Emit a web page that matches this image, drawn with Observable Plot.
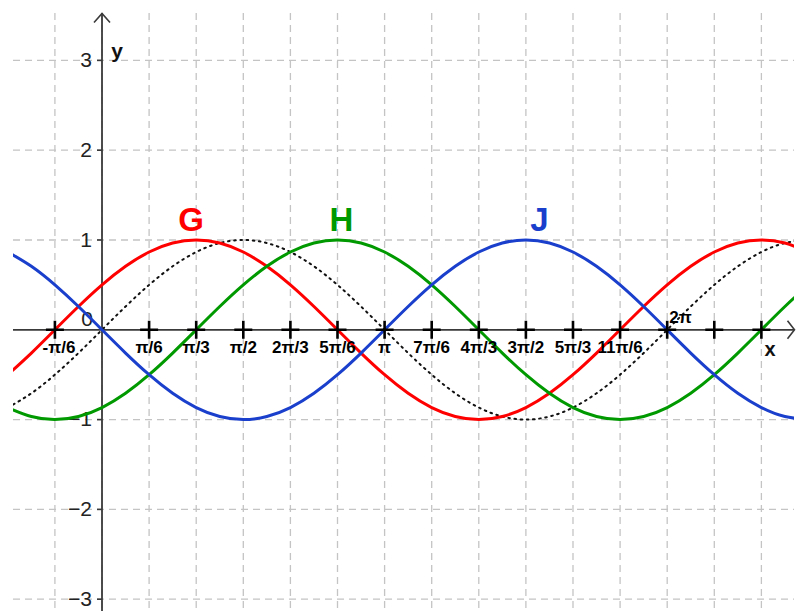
<!DOCTYPE html>
<html>
<head>
<meta charset="utf-8">
<script src="https://cdn.jsdelivr.net/npm/d3@7"></script>
<script src="https://cdn.jsdelivr.net/npm/@observablehq/plot@0.6"></script>
<style>
  html, body { margin: 0; padding: 0; background: #fff; }
  svg { display: block; }
</style>
</head>
<body>
<div id="chart"></div>
<script>
// x positions, in steps of π/12 (converted to multiples of π for the scale)
const steps = [-4,-3,-2,-1,0,1,2,3,4,5,6,7,8,9,10,11,12,13,14,15,16,17,18,19,20,21,22,23,24,25,26,27,28,29,30];
// dotted curve (black)
const dotted = [-0.866,-0.707,-0.5,-0.259,0,0.259,0.5,0.707,0.866,0.966,1,0.966,0.866,0.707,0.5,0.259,0,-0.259,-0.5,-0.707,-0.866,-0.966,-1,-0.966,-0.866,-0.707,-0.5,-0.259,0,0.259,0.5,0.707,0.866,0.966,1];
// G (red)
const seriesG = [-0.5,-0.259,0,0.259,0.5,0.707,0.866,0.966,1,0.966,0.866,0.707,0.5,0.259,0,-0.259,-0.5,-0.707,-0.866,-0.966,-1,-0.966,-0.866,-0.707,-0.5,-0.259,0,0.259,0.5,0.707,0.866,0.966,1,0.966,0.866];
// H (green)
const seriesH = [-0.866,-0.966,-1,-0.966,-0.866,-0.707,-0.5,-0.259,0,0.259,0.5,0.707,0.866,0.966,1,0.966,0.866,0.707,0.5,0.259,0,-0.259,-0.5,-0.707,-0.866,-0.966,-1,-0.966,-0.866,-0.707,-0.5,-0.259,0,0.259,0.5];
// J (blue)
const seriesJ = [0.866,0.707,0.5,0.259,0,-0.259,-0.5,-0.707,-0.866,-0.966,-1,-0.966,-0.866,-0.707,-0.5,-0.259,0,0.259,0.5,0.707,0.866,0.966,1,0.966,0.866,0.707,0.5,0.259,0,-0.259,-0.5,-0.707,-0.866,-0.966,-1];

// x ticks, in steps of π/6
const xTickPos = [-1,1,2,3,4,5,6,7,8,9,10,11,12,13,14];
const xTickLabels = ["-π/6","π/6","π/3","π/2","2π/3","5π/6","π","7π/6","4π/3","3π/2","5π/3","11π/6","2π","",""];
const xGridPos = [-1,0,1,2,3,4,5,6,7,8,9,10,11,12,13,14];
const yTicks = [3,2,1,-1,-2,-3];
const yTickLabels = ["3","2","1","−1","−2","−3"];
const yGrid = [-3,-2,-1,1,2,3];

// curve names
const curveNames = ["G","H","J"];
const curveColors = ["#ff0000","#009900","#1a3fcc"];
const labelX = [0.315, 0.847, 1.548];
const labelY = [1.22, 1.22, 1.22];

const toRows = (vals, name) => steps.map((k, i) => ({x: k / 12, y: vals[i], name}));
const rowsG = toRows(seriesG, "G");
const rowsH = toRows(seriesH, "H");
const rowsJ = toRows(seriesJ, "J");
const rowsDot = toRows(dotted, "f");

const xTicks = xTickPos.map((p, i) => ({x: p / 6, label: xTickLabels[i], p}));
const labels = curveNames.map((n, i) => ({x: labelX[i], y: labelY[i], name: n, color: curveColors[i]}));

const font = "'Liberation Sans', Arial, sans-serif";

const leftTick = { draw(ctx) { ctx.moveTo(-5, 0); ctx.lineTo(0, 0); } };
const arrowRight = { draw(ctx) { ctx.moveTo(-7, -9); ctx.lineTo(0, 0); ctx.lineTo(-7, 9); } };
const arrowUp = { draw(ctx) { ctx.moveTo(-8, 9); ctx.lineTo(0, 0); ctx.lineTo(8, 9); } };

const axisColor = "#3a3a3a";
const tickLabelStyle = {fontSize: 17, fontWeight: "bold", fill: "#000"};

const chart = Plot.plot({
  width: 798,
  height: 611,
  marginTop: 13,
  marginRight: 4,
  marginBottom: 0,
  marginLeft: 13,
  style: {fontFamily: font, background: "#fff"},
  x: {domain: [-0.3132, 2.4505], axis: null},
  y: {domain: [-3.137, 3.522], axis: null},
  marks: [
    Plot.ruleX(xGridPos, {x: d => d / 6, stroke: "#c4c4c4", strokeWidth: 1.3, strokeDasharray: "7,5"}),
    Plot.ruleY(yGrid, {stroke: "#c4c4c4", strokeWidth: 1.3, strokeDasharray: "7,5"}),
    Plot.ruleY([0], {stroke: axisColor, strokeWidth: 1.8}),
    Plot.ruleX([0], {stroke: axisColor, strokeWidth: 1.8}),
    Plot.dot([0], {y: d => d, frameAnchor: "right", symbol: arrowRight, r: 5, stroke: axisColor, strokeWidth: 1.6, fill: "none"}),
    Plot.dot([0], {x: d => d, frameAnchor: "top", symbol: arrowUp, r: 5, stroke: axisColor, strokeWidth: 1.6, fill: "none"}),
    Plot.dot(yTicks, {x: 0, y: d => d, symbol: leftTick, r: 3, stroke: axisColor, strokeWidth: 1.6}),
    Plot.text(yTicks, {x: 0, y: d => d, text: (d, i) => yTickLabels[i], dx: -10, textAnchor: "end", fontSize: 21, fill: "#222"}),
    Plot.text(["0"], {x: 0, y: 0, text: d => d, dx: -9, dy: -11, textAnchor: "end", fontSize: 21, fill: "#222"}),
    Plot.line(rowsDot, {x: "x", y: "y", curve: "natural", stroke: "#111", strokeWidth: 2, strokeDasharray: "1.6,4.6", clip: true}),
    Plot.line(rowsG, {x: "x", y: "y", curve: "natural", stroke: curveColors[0], strokeWidth: 3, clip: true}),
    Plot.line(rowsH, {x: "x", y: "y", curve: "natural", stroke: curveColors[1], strokeWidth: 3, clip: true}),
    Plot.line(rowsJ, {x: "x", y: "y", curve: "natural", stroke: curveColors[2], strokeWidth: 3, clip: true}),
    Plot.dot(xTicks, {x: "x", y: 0, symbol: "plus", r: 5.85, stroke: "#000", strokeWidth: 2.6}),
    Plot.text(xTicks.filter(d => d.p < 0), {x: "x", y: 0, text: "label", dy: 18, dx: 4, ...tickLabelStyle}),
    Plot.text(xTicks.filter(d => d.p > 0 && d.p !== 12), {x: "x", y: 0, text: "label", dy: 18, ...tickLabelStyle}),
    Plot.text(xTicks.filter(d => d.p === 12), {x: "x", y: 0, text: "label", dy: -12, dx: 2, textAnchor: "start", ...tickLabelStyle}),
    Plot.text(["x"], {y: 0, frameAnchor: "right", text: d => d, dx: -19, dy: 20, fontSize: 20, fontWeight: "bold", fill: "#111"}),
    Plot.text(["y"], {x: 0, frameAnchor: "top", text: d => d, dx: 15, dy: 30, fontSize: 21, fontWeight: "bold", fill: "#111"}),
    Plot.text(labels, {x: "x", y: "y", text: "name", fill: "color", fontSize: 33, fontWeight: "bold"})
  ]
});
document.getElementById("chart").appendChild(chart);
</script>
</body>
</html>
